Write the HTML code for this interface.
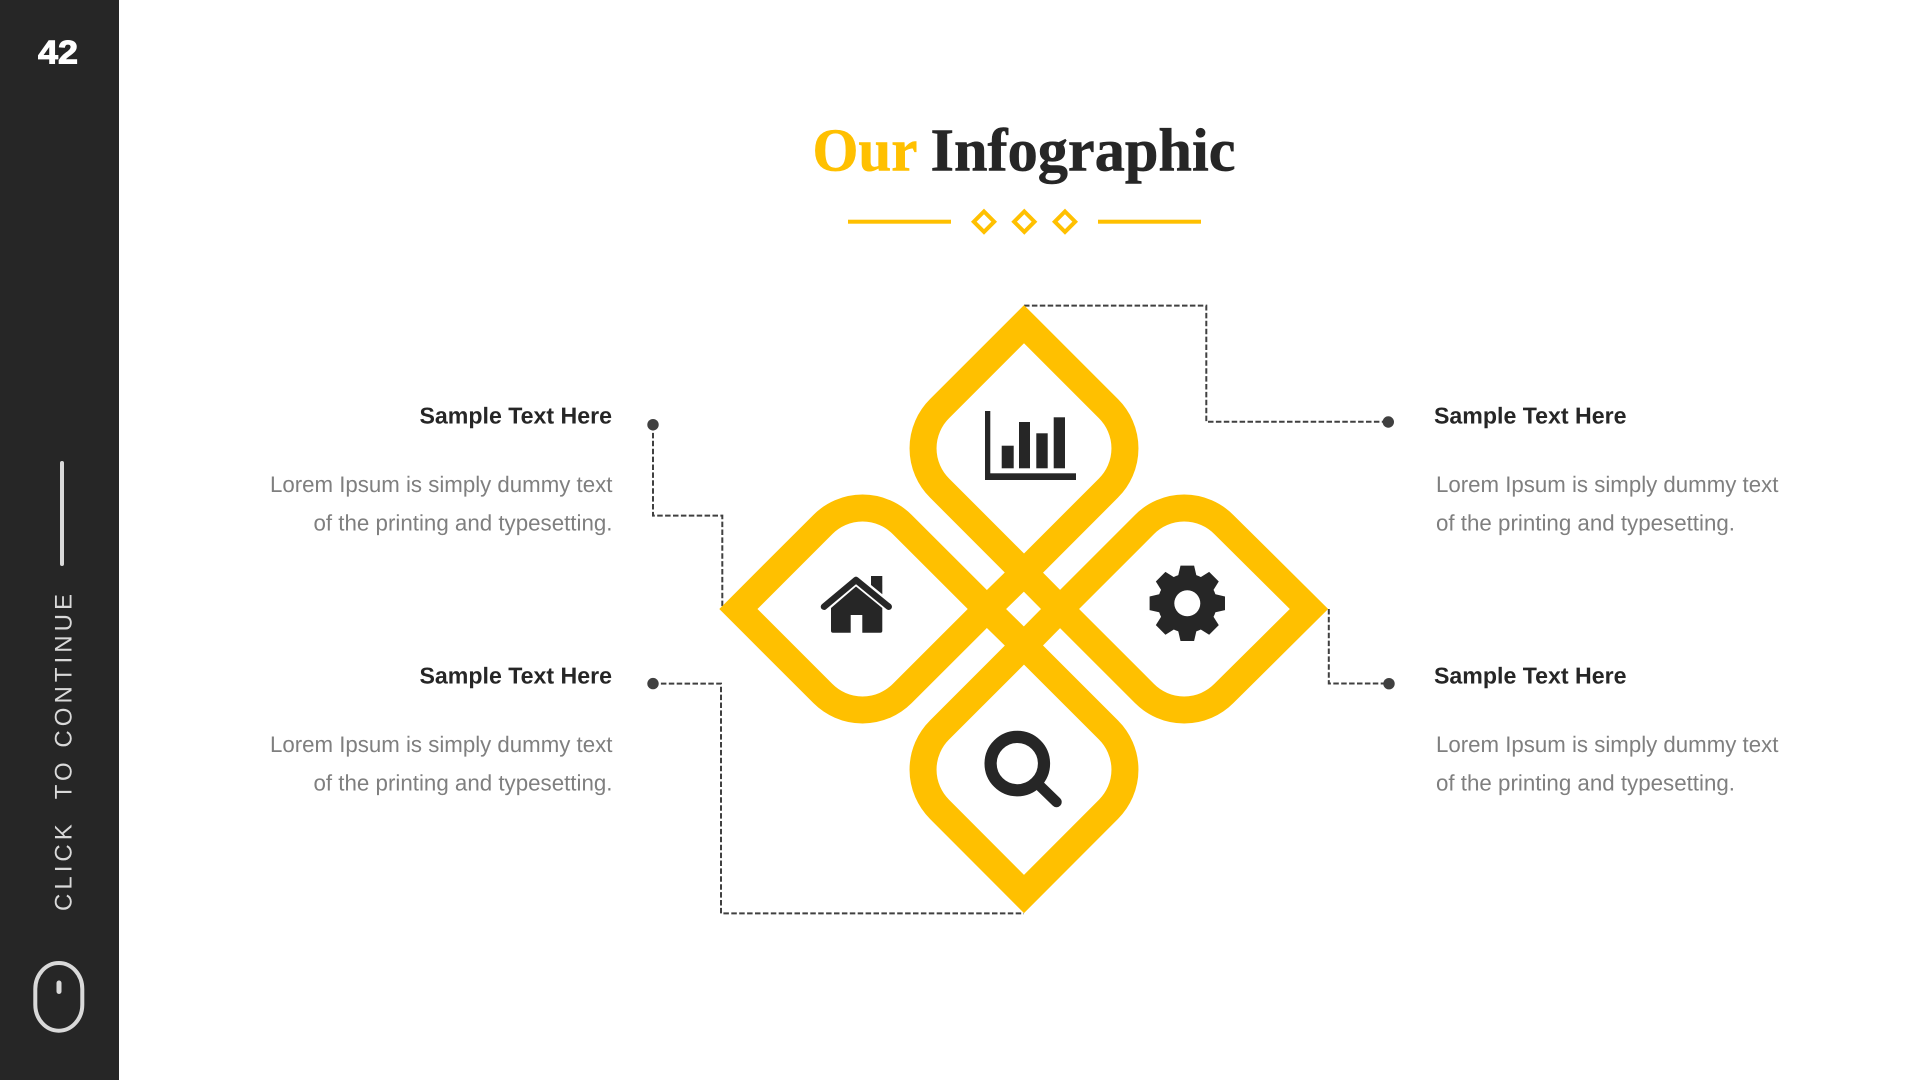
<!DOCTYPE html>
<html lang="en">
<head>
<meta charset="utf-8">
<title>Our Infographic</title>
<style>
html,body{margin:0;padding:0;width:1920px;height:1080px;overflow:hidden;background:#fff}
svg{display:block;position:absolute;left:0;top:0}
text{text-rendering:geometricPrecision;white-space:pre}
.h{font:bold 23px "Liberation Sans",sans-serif;fill:#262626}
.b{font:22.5px "Liberation Sans",sans-serif;fill:#7f7f7f}
.t{font:bold 61px "Liberation Serif",serif;stroke-width:.6}
</style>
</head>
<body>
<svg width="1920" height="1080" viewBox="0 0 1920 1080" xmlns="http://www.w3.org/2000/svg">
  <rect width="1920" height="1080" fill="#fff"/>
  <!-- sidebar -->
  <rect width="119" height="1080" fill="#262626"/>
  <text x="38" y="63.5" font-family="Liberation Sans" font-weight="bold" font-size="33" fill="#fff" stroke="#fff" stroke-width="1" textLength="40" lengthAdjust="spacingAndGlyphs">42</text>
  <line x1="62" y1="463" x2="62" y2="564" stroke="#d9d9d9" stroke-width="4" stroke-linecap="round"/>
  <text transform="translate(71.7 911) rotate(-90)" font-family="Liberation Sans" font-size="24" fill="#d9d9d9" textLength="317" lengthAdjust="spacing">CLICK  TO CONTINUE</text>
  <rect x="35.3" y="963" width="47" height="67.7" rx="23.5" ry="26" fill="none" stroke="#d9d9d9" stroke-width="4"/>
  <line x1="59" y1="983" x2="59" y2="991.5" stroke="#d9d9d9" stroke-width="5" stroke-linecap="round"/>

  <!-- title -->
  <text class="t" x="812.5" y="170.7" fill="#FFC000" stroke="#FFC000" textLength="105" lengthAdjust="spacingAndGlyphs">Our</text>
  <text class="t" x="930.5" y="170.7" fill="#262626" stroke="#262626" textLength="305" lengthAdjust="spacingAndGlyphs">Infographic</text>

  <!-- divider -->
  <rect x="848" y="219.7" width="103" height="4" fill="#FFC000"/>
  <rect x="1098" y="219.7" width="103" height="4" fill="#FFC000"/>
  <g fill="none" stroke="#FFC000" stroke-width="4" stroke-miterlimit="10">
    <path d="M984 211.5 L994.2 221.7 L984 231.9 L973.8 221.7Z"/>
    <path d="M1024.3 211.5 L1034.5 221.7 L1024.3 231.9 L1014.1 221.7Z"/>
    <path d="M1065 211.5 L1075.2 221.7 L1065 231.9 L1054.8 221.7Z"/>
  </g>

  <!-- connectors -->
  <g fill="none" stroke="#404040" stroke-width="2" stroke-dasharray="5.5 2.4">
    <path d="M1024 305.6 H1206.3 V421.8 H1388"/>
    <path d="M653 425 V515.6 H722.3 V608"/>
    <path d="M653 683.6 H721 V913.4 H1024"/>
    <path d="M1328.8 609 V683.5 H1389"/>
  </g>
  <g fill="#404040">
    <circle cx="653" cy="424.7" r="5.7"/>
    <circle cx="653" cy="683.6" r="5.7"/>
    <circle cx="1388.3" cy="422" r="5.7"/>
    <circle cx="1389" cy="683.7" r="5.7"/>
  </g>

  <!-- petals -->
  <g fill="none" stroke="#FFC000" stroke-width="27" stroke-miterlimit="10" stroke-linejoin="miter">
    <path d="M1024 324.2 L1108.5 408.7 A56 56 0 0 1 1108.5 488 L1024 572.6 L939.5 488 A56 56 0 0 1 939.5 408.7Z"/>
    <path d="M1024 645.5 L1108.5 730 A56 56 0 0 1 1108.5 809.3 L1024 894 L939.5 809.3 A56 56 0 0 1 939.5 730Z"/>
    <path d="M738.4 609 L822.9 524.5 A56 56 0 0 1 902.2 524.5 L986.8 609 L902.2 693.5 A56 56 0 0 1 822.9 693.5Z"/>
    <path d="M1060 609 L1144.5 524.5 A56 56 0 0 1 1223.8 524.5 L1309 609 L1223.8 693.5 A56 56 0 0 1 1144.5 693.5Z"/>
    <path d="M1024 572.6 L1060 609 L1024 645.5 L986.8 609Z"/>
  </g>

  <!-- chart icon -->
  <g fill="#262626">
    <rect x="985" y="411" width="5.3" height="69"/>
    <rect x="985" y="473.3" width="91" height="6.7"/>
    <rect x="1001.7" y="445.7" width="12" height="22.6"/>
    <rect x="1019" y="422" width="11" height="46.3"/>
    <rect x="1036.3" y="433.3" width="11.4" height="35"/>
    <rect x="1053.7" y="417.3" width="11.3" height="51"/>
  </g>

  <!-- house icon -->
  <g fill="#262626">
    <path d="M871 576 H882.3 V594.3 L871 585Z"/>
    <path d="M856 586.5 L882.3 608 V630.7 Q882.3 632.7 880.3 632.7 H862.3 V615 H850.7 V632.7 H833 Q831 632.7 831 630.7 V608Z"/>
    <path d="M824 606.7 L856 580 L888.7 606.7" fill="none" stroke="#262626" stroke-width="6.5" stroke-linecap="round" stroke-linejoin="round"/>
  </g>

  <!-- gear icon -->
  <g fill="#262626" transform="translate(1187.3 603.3)">
    <circle r="29.5"/>
    <path d="M-6.8 -37.7 H6.8 L9.5 -26 H-9.5Z"/>
    <path transform="rotate(45)" d="M-6.8 -37.7 H6.8 L9.5 -26 H-9.5Z"/>
    <path transform="rotate(90)" d="M-6.8 -37.7 H6.8 L9.5 -26 H-9.5Z"/>
    <path transform="rotate(135)" d="M-6.8 -37.7 H6.8 L9.5 -26 H-9.5Z"/>
    <path transform="rotate(180)" d="M-6.8 -37.7 H6.8 L9.5 -26 H-9.5Z"/>
    <path transform="rotate(225)" d="M-6.8 -37.7 H6.8 L9.5 -26 H-9.5Z"/>
    <path transform="rotate(270)" d="M-6.8 -37.7 H6.8 L9.5 -26 H-9.5Z"/>
    <path transform="rotate(315)" d="M-6.8 -37.7 H6.8 L9.5 -26 H-9.5Z"/>
    <circle r="13" fill="#fff"/>
  </g>

  <!-- search icon -->
  <circle cx="1017.3" cy="763.6" r="26.7" fill="none" stroke="#262626" stroke-width="12.2"/>
  <line x1="1040" y1="786" x2="1056.5" y2="802" stroke="#262626" stroke-width="10.5" stroke-linecap="round"/>

  <!-- left text -->
  <text class="h" x="419.5" y="423.3" textLength="192.5" lengthAdjust="spacingAndGlyphs">Sample Text Here</text>
  <text class="b" x="270" y="492" textLength="342.4" lengthAdjust="spacingAndGlyphs">Lorem Ipsum is simply dummy text</text>
  <text class="b" x="313.5" y="530.7" textLength="299" lengthAdjust="spacingAndGlyphs">of the printing and typesetting.</text>
  <text class="h" x="419.5" y="683.3" textLength="192.5" lengthAdjust="spacingAndGlyphs">Sample Text Here</text>
  <text class="b" x="270" y="752" textLength="342.4" lengthAdjust="spacingAndGlyphs">Lorem Ipsum is simply dummy text</text>
  <text class="b" x="313.5" y="790.7" textLength="299" lengthAdjust="spacingAndGlyphs">of the printing and typesetting.</text>

  <!-- right text -->
  <text class="h" x="1434" y="423.3" textLength="192.5" lengthAdjust="spacingAndGlyphs">Sample Text Here</text>
  <text class="b" x="1436" y="492" textLength="342.4" lengthAdjust="spacingAndGlyphs">Lorem Ipsum is simply dummy text</text>
  <text class="b" x="1436" y="530.7" textLength="299" lengthAdjust="spacingAndGlyphs">of the printing and typesetting.</text>
  <text class="h" x="1434" y="683.3" textLength="192.5" lengthAdjust="spacingAndGlyphs">Sample Text Here</text>
  <text class="b" x="1436" y="752" textLength="342.4" lengthAdjust="spacingAndGlyphs">Lorem Ipsum is simply dummy text</text>
  <text class="b" x="1436" y="790.7" textLength="299" lengthAdjust="spacingAndGlyphs">of the printing and typesetting.</text>
</svg>
</body>
</html>
